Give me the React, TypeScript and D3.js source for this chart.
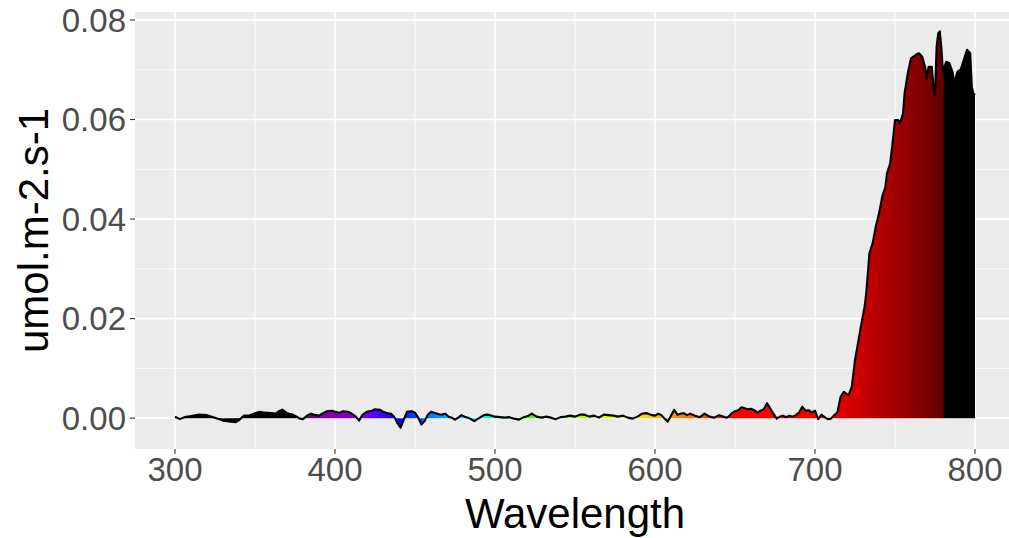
import React, { useRef, useEffect } from 'react';
import * as d3 from 'd3';

// spectrum (nm, umol.m-2.s-1)
const wavelengths = [
  300, 303, 306, 310, 315, 320, 325, 330, 335, 338, 340, 343, 346, 350, 353, 356, 360, 363, 365, 367,
  370, 373, 376, 378, 380, 383, 385, 388, 390, 392, 395, 398, 400, 403, 405, 408, 410, 413, 415, 417,
  420, 423, 425, 428, 430, 433, 435, 437, 439, 441, 443, 445, 448, 450, 452, 454, 456, 458, 460, 463,
  466, 469, 471, 473, 475, 477, 479, 481, 483, 485, 487, 489, 491, 493, 495, 497, 500, 503, 506, 509,
  512, 515, 518, 521, 523, 526, 529, 532, 535, 538, 541, 544, 547, 550, 553, 556, 559, 562, 565, 568,
  571, 574, 577, 580, 583, 586, 589, 592, 595, 598, 600, 602, 604, 606, 608, 610, 612, 614, 616, 618,
  620, 622, 625, 628, 631, 634, 637, 640, 643, 645, 646, 648, 650, 652, 654, 656, 658, 660, 662, 664,
  666, 668, 670, 672, 674, 676, 678, 680, 682, 684, 686, 688, 690, 692, 694, 696, 698, 700, 702, 704,
  706, 708, 710, 712, 714, 716, 718, 721, 723, 724, 725, 727, 729, 731, 732, 733, 734, 736, 738, 740,
  742, 744, 745, 747, 748, 750, 752, 753, 755, 756, 758, 760, 763, 765, 767, 769, 770, 771, 773, 774,
  775, 776, 777, 778, 779, 780, 782, 784, 786, 787, 789, 791, 793, 795, 797, 798, 799, 800,
];

const irradiance = [
  0.0003, -0.0002, 0.0002, 0.0004, 0.0007, 0.0006, 0.0001, -0.0005, -0.0007, -0.0008, -0.0004, 0.0005, 0.0005, 0.001, 0.0013, 0.0011, 0.001, 0.0009, 0.0014, 0.0017,
  0.001, 0.0008, 0.0003, -0.0001, -0.0002, 0.0006, 0.0009, 0.0006, 0.0005, 0.0009, 0.0014, 0.0015, 0.0013, 0.0011, 0.0014, 0.0013, 0.001, 0.0003, -0.0005, 0.0006,
  0.0013, 0.0015, 0.0018, 0.0017, 0.0013, 0.001, 0.0009, 0.0003, -0.001, -0.0019, -0.0003, 0.0013, 0.0014, 0.0011, 0.0001, -0.0013, -0.0006, 0.0007, 0.0013, 0.001,
  0.0007, 0.0009, 0.0003, 0.0001, -0.0003, 0.0001, 0.0006, 0.0003, 0.0001, -0.0002, -0.0006, -0.0002, 0.0002, 0.0006, 0.0007, 0.0006, 0.0003, 0.0002, 0.0001, 0.0002,
  -0.0001, -0.0003, 0.0002, 0.0005, 0.0009, 0.0003, 0.0001, 0.0003, 0.0001, -0.0002, 0.0002, 0.0003, 0.0005, 0.0003, 0.0007, 0.0007, 0.0003, 0.0005, 0.0001, 0.0007,
  0.0006, 0.0005, 0.0003, 0.0005, 0.0001, -0.0001, 0.0003, 0.0009, 0.001, 0.0006, 0.0005, 0.0009, 0.0006, -0.0001, -0.0007, 0.0005, 0.0017, 0.0007, 0.0009, 0.001,
  0.0006, 0.0009, 0.0005, 0.0002, 0.0009, 0.0003, 0.0001, 0.0006, 0.0003, 0.0001, 0.0003, 0.001, 0.0014, 0.0016, 0.0022, 0.002, 0.0018, 0.0019, 0.0016, 0.0011,
  0.0015, 0.0018, 0.003, 0.002, 0.0009, -0.0001, 0.0003, 0.0005, 0.0002, 0.0005, 0.0003, 0.0006, 0.0011, 0.0023, 0.0015, 0.0016, 0.0011, 0.0015, -0.0002, 0.0007,
  0.0002, -0.0002, -0.0001, 0.0006, 0.0012, 0.0043, 0.0053, 0.0046, 0.0063, 0.009, 0.0117, 0.0153, 0.019, 0.0224, 0.025, 0.029, 0.0331, 0.0351, 0.0385, 0.0411,
  0.0445, 0.0465, 0.0492, 0.0512, 0.0539, 0.0599, 0.0599, 0.0592, 0.0612, 0.0653, 0.0693, 0.0723, 0.073, 0.0733, 0.0726, 0.0703, 0.0683, 0.0706, 0.0706, 0.0669,
  0.0649, 0.0746, 0.0773, 0.0777, 0.0743, 0.0696, 0.0716, 0.0713, 0.0695, 0.0673, 0.0696, 0.07, 0.072, 0.074, 0.0733, 0.0665, 0.0653, 0.0649,
];

const xTicks = [300, 400, 500, 600, 700, 800];
const xMinor = [350, 450, 550, 650, 750];
const yTicks = [0, 0.02, 0.04, 0.06, 0.08];
const yTickLabels = ['0.00', '0.02', '0.04', '0.06', '0.08'];
const yMinor = [0.01, 0.03, 0.05, 0.07];

// approximate visible colour of a wavelength, black outside 380-780
function wlColor(wl: number): string {
  let r = 0, g = 0, b = 0;
  if (wl >= 380 && wl < 440) { r = -(wl - 440) / 60; b = 1; }
  else if (wl >= 440 && wl < 490) { g = (wl - 440) / 50; b = 1; }
  else if (wl >= 490 && wl < 510) { g = 1; b = -(wl - 510) / 20; }
  else if (wl >= 510 && wl < 580) { r = (wl - 510) / 70; g = 1; }
  else if (wl >= 580 && wl < 645) { r = 1; g = -(wl - 645) / 65; }
  else if (wl >= 645 && wl <= 780) { r = 1; }
  let f = 0;
  if (wl >= 380 && wl < 420) f = 0.3 + 0.7 * (wl - 380) / 40;
  else if (wl >= 420 && wl < 700) f = 1;
  else if (wl >= 700 && wl <= 780) f = 0.3 + 0.7 * (780 - wl) / 80;
  const c = (v: number) => Math.round(255 * Math.pow(v * f, 0.8));
  return `rgb(${c(r)},${c(g)},${c(b)})`;
}

const W = 1009;
const H = 538;
const panel = { left: 135, right: 1015, top: 12, bottom: 449 };
const font = '"Liberation Sans", Arial, sans-serif';

const SpectrumChart: React.FC = () => {
  const svgRef = useRef<SVGSVGElement | null>(null);

  useEffect(() => {
    if (!svgRef.current) return;
    const svg = d3.select(svgRef.current);
    svg.selectAll('*').remove();

    const x = d3.scaleLinear().domain([275, 825]).range([panel.left, panel.right]);
    const y = d3.scaleLinear().domain([-0.0062, 0.0816]).range([panel.bottom, panel.top]);

    // gradient for the area fill
    const grad = svg.append('defs').append('linearGradient')
      .attr('id', 'spectrum')
      .attr('gradientUnits', 'userSpaceOnUse')
      .attr('x1', x(300)).attr('x2', x(800))
      .attr('y1', 0).attr('y2', 0);
    for (let wl = 300; wl <= 800; wl++) {
      grad.append('stop')
        .attr('offset', (wl - 300) / 500)
        .attr('stop-color', wlColor(wl));
    }

    svg.append('rect')
      .attr('x', panel.left).attr('y', panel.top)
      .attr('width', panel.right - panel.left).attr('height', panel.bottom - panel.top)
      .attr('fill', '#EBEBEB');

    const grid = svg.append('g').attr('stroke', '#FFFFFF');
    yMinor.forEach(v => grid.append('line')
      .attr('x1', panel.left).attr('x2', panel.right)
      .attr('y1', y(v)).attr('y2', y(v)).attr('stroke-width', 0.8));
    xMinor.forEach(v => grid.append('line')
      .attr('x1', x(v)).attr('x2', x(v))
      .attr('y1', panel.top).attr('y2', panel.bottom).attr('stroke-width', 0.8));
    yTicks.forEach(v => grid.append('line')
      .attr('x1', panel.left).attr('x2', panel.right)
      .attr('y1', y(v)).attr('y2', y(v)).attr('stroke-width', 1.7));
    xTicks.forEach(v => grid.append('line')
      .attr('x1', x(v)).attr('x2', x(v))
      .attr('y1', panel.top).attr('y2', panel.bottom).attr('stroke-width', 1.7));

    const area = d3.area<number>()
      .x((_, i) => x(wavelengths[i]))
      .y0(y(0))
      .y1(d => y(d));
    svg.append('path')
      .datum(irradiance)
      .attr('d', area)
      .attr('fill', 'url(#spectrum)');

    const line = d3.line<number>()
      .x((_, i) => x(wavelengths[i]))
      .y(d => y(d));
    svg.append('path')
      .datum(irradiance)
      .attr('d', line)
      .attr('fill', 'none')
      .attr('stroke', '#000000')
      .attr('stroke-width', 2.1)
      .attr('stroke-linejoin', 'round');

    // axes
    const ax = svg.append('g').attr('font-family', font);
    yTicks.forEach((v, i) => {
      ax.append('line')
        .attr('x1', panel.left - 5).attr('x2', panel.left)
        .attr('y1', y(v)).attr('y2', y(v))
        .attr('stroke', '#333333').attr('stroke-width', 1.1);
      ax.append('text')
        .attr('x', panel.left - 9).attr('y', y(v))
        .attr('dy', '0.36em')
        .attr('text-anchor', 'end')
        .attr('font-size', 33)
        .attr('fill', '#4D4D4D')
        .text(yTickLabels[i]);
    });
    xTicks.forEach(v => {
      ax.append('line')
        .attr('x1', x(v)).attr('x2', x(v))
        .attr('y1', panel.bottom).attr('y2', panel.bottom + 5)
        .attr('stroke', '#333333').attr('stroke-width', 1.1);
      ax.append('text')
        .attr('x', x(v)).attr('y', 481)
        .attr('text-anchor', 'middle')
        .attr('font-size', 33)
        .attr('fill', '#4D4D4D')
        .text(String(v));
    });

    ax.append('text')
      .attr('x', (panel.left + panel.right) / 2).attr('y', 528)
      .attr('text-anchor', 'middle')
      .attr('font-size', 42)
      .attr('fill', '#000000')
      .text('Wavelength');
    ax.append('text')
      .attr('transform', `translate(48, ${(panel.top + panel.bottom) / 2}) rotate(-90)`)
      .attr('text-anchor', 'middle')
      .attr('font-size', 42)
      .attr('fill', '#000000')
      .text('umol.m-2.s-1');
  }, []);

  return (
    <svg ref={svgRef} width={W} height={H}
      style={{ position: 'fixed', left: 0, top: 0, background: '#FFFFFF' }} />
  );
};

export default function App() {
  return <SpectrumChart />;
}
